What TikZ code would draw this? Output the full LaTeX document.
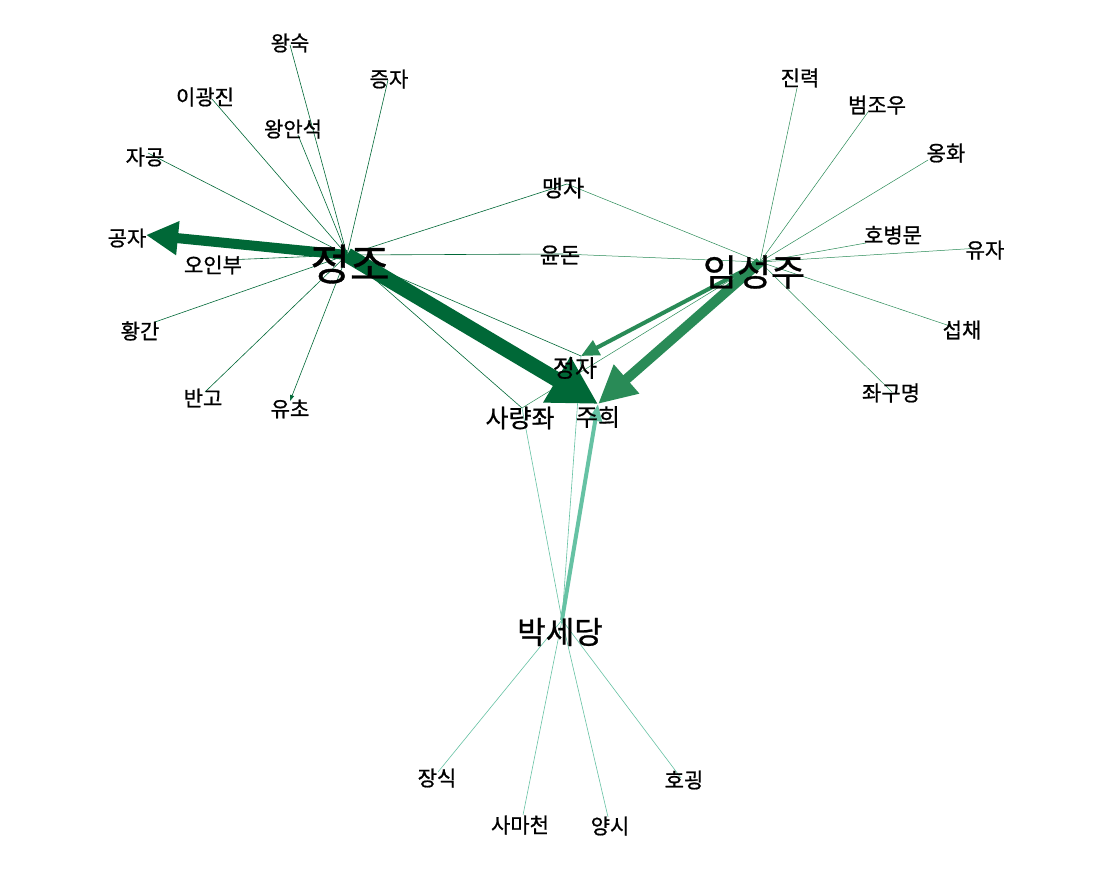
\documentclass[tikz,border=0pt]{standalone}
\usepackage{fontspec}
\newfontfamily\kr[FakeBold=0.8]{Noto Sans CJK KR}
\usetikzlibrary{arrows.meta}
\definecolor{cA}{RGB}{0,104,55}
\definecolor{cB}{RGB}{41,139,87}
\definecolor{cC}{RGB}{102,194,164}
\begin{document}
\begin{tikzpicture}[x=1pt,y=-1pt,
  lbl/.style={inner sep=0pt,font=\kr\fontsize{21}{21}\selectfont,text=black},
  mid/.style={inner sep=0pt,font=\kr\fontsize{24}{24}\selectfont,text=black},
  hub/.style={inner sep=0pt,text=black},
  thinA/.style={draw=cA,line width=0.6pt},
  thinB/.style={draw=cB,line width=0.5pt},
  thinC/.style={draw=cC,line width=0.6pt}]
\fill[white] (0,0) rectangle (1102,872);
\useasboundingbox (0,0) rectangle (1102,872);
% anchor points
\coordinate (pjz) at (347,255);
\coordinate (pgj) at (146,235);
\coordinate (pws) at (290,45);
\coordinate (pjj) at (388,80);
\coordinate (pigj) at (212,99);
\coordinate (pwas) at (298,135);
\coordinate (pjg) at (148,153);
\coordinate (poib) at (225,260);
\coordinate (phg) at (155,322);
\coordinate (pbg) at (205,392);
\coordinate (pyc) at (290,401);
\coordinate (pmj) at (567,184);
\coordinate (pyd) at (563,254);
\coordinate (pjeongja) at (581,356);
\coordinate (psrj) at (522,408);
\coordinate (pjh) at (598,404);
\coordinate (pisj) at (760,262);
\coordinate (pjr) at (797,88);
\coordinate (pbjw) at (868,112);
\coordinate (poh) at (928,160);
\coordinate (phbm) at (866,243);
\coordinate (pyj) at (980,248);
\coordinate (psc) at (950,326);
\coordinate (pjgm) at (892,392);
\coordinate (pbsd) at (562,620);
\coordinate (pjs) at (438,772);
\coordinate (psmc) at (523,815);
\coordinate (pys) at (608,817);
\coordinate (phgw) at (681,778);
% 정조 edges
\foreach \t in {pws,pjj,pigj,pwas,pjg,poib,phg,pbg,pmj,pyd,pjeongja,psrj}
  \draw[thinA] (pjz) -- (\t);
\draw[thinA,-{Triangle[length=6pt,width=4pt]}] (pjz) -- (pyc);
% 임성주 edges
\foreach \t in {pjr,pbjw,poh,phbm,pyj,psc,pjgm,pmj,pyd,psrj}
  \draw[thinB] (pisj) -- (\t);
% 박세당 edges
\foreach \t in {pjs,psmc,pys,phgw,psrj,pjeongja}
  \draw[thinC] (pbsd) -- (\t);
% weighted arrows
\draw[cC,line width=4pt,-{Triangle[length=17pt,width=13pt]}] (pbsd) -- (pjh);
\draw[cB,line width=4pt,-{Triangle[length=18pt,width=16pt]}] (pisj) -- (pjeongja);
\draw[cB,line width=10pt,-{Triangle[length=38pt,width=36pt]}] (pisj) -- (pjh);
\draw[cA,line width=10pt,-{Triangle[length=32pt,width=32pt]}] (pjz) -- (pgj);
\draw[cA,line width=15pt,-{Triangle[length=48pt,width=50pt]}] (pjz) -- (pjh);
% labels
\node[hub,font=\kr\fontsize{43}{43}\selectfont] (ljz) at (350,264) {정조};
\node[hub,font=\kr\fontsize{37}{37}\selectfont] (lisj) at (754,272) {임성주};
\node[hub,font=\kr\fontsize{31}{31}\selectfont] (lbsd) at (560,632) {박세당};
\node[lbl] (lgj) at (127,238) {공자};
\node[lbl] (lws) at (290,43) {왕숙};
\node[lbl] (ljj) at (389,79) {증자};
\node[lbl] (ligj) at (205,97) {이광진};
\node[lbl] (lwas) at (293,129) {왕안석};
\node[lbl] (ljg) at (145,157) {자공};
\node[lbl] (loib) at (213,265) {오인부};
\node[lbl] (lhg) at (140,331) {황간};
\node[lbl] (lbg) at (203,398) {반고};
\node[lbl] (lyc) at (290,409) {유초};
\node[mid,font=\kr\fontsize{23}{23}\selectfont] (lmj) at (563,188) {맹자};
\node[mid,font=\kr\fontsize{22}{22}\selectfont] (lyd) at (560,255) {윤돈};
\node[mid] (ljeongja) at (575,368) {정자};
\node[mid,font=\kr\fontsize{25}{25}\selectfont] (lsrj) at (520,418) {사량좌};
\node[mid] (ljh) at (598,417) {주희};
\node[lbl] (ljr) at (800,78) {진력};
\node[lbl] (lbjw) at (877,105) {범조우};
\node[lbl] (loh) at (946,153) {옹화};
\node[lbl] (lhbm) at (893,235) {호병문};
\node[lbl] (lyj) at (985,250) {유자};
\node[lbl] (lsc) at (962,330) {섭채};
\node[lbl] (ljgm) at (891,393) {좌구명};
\node[lbl] (ljs) at (437,778) {장식};
\node[lbl] (lsmc) at (520,825) {사마천};
\node[lbl] (lys) at (610,826) {양시};
\node[lbl] (lhgw) at (684,780) {호굉};
\end{tikzpicture}
\end{document}
